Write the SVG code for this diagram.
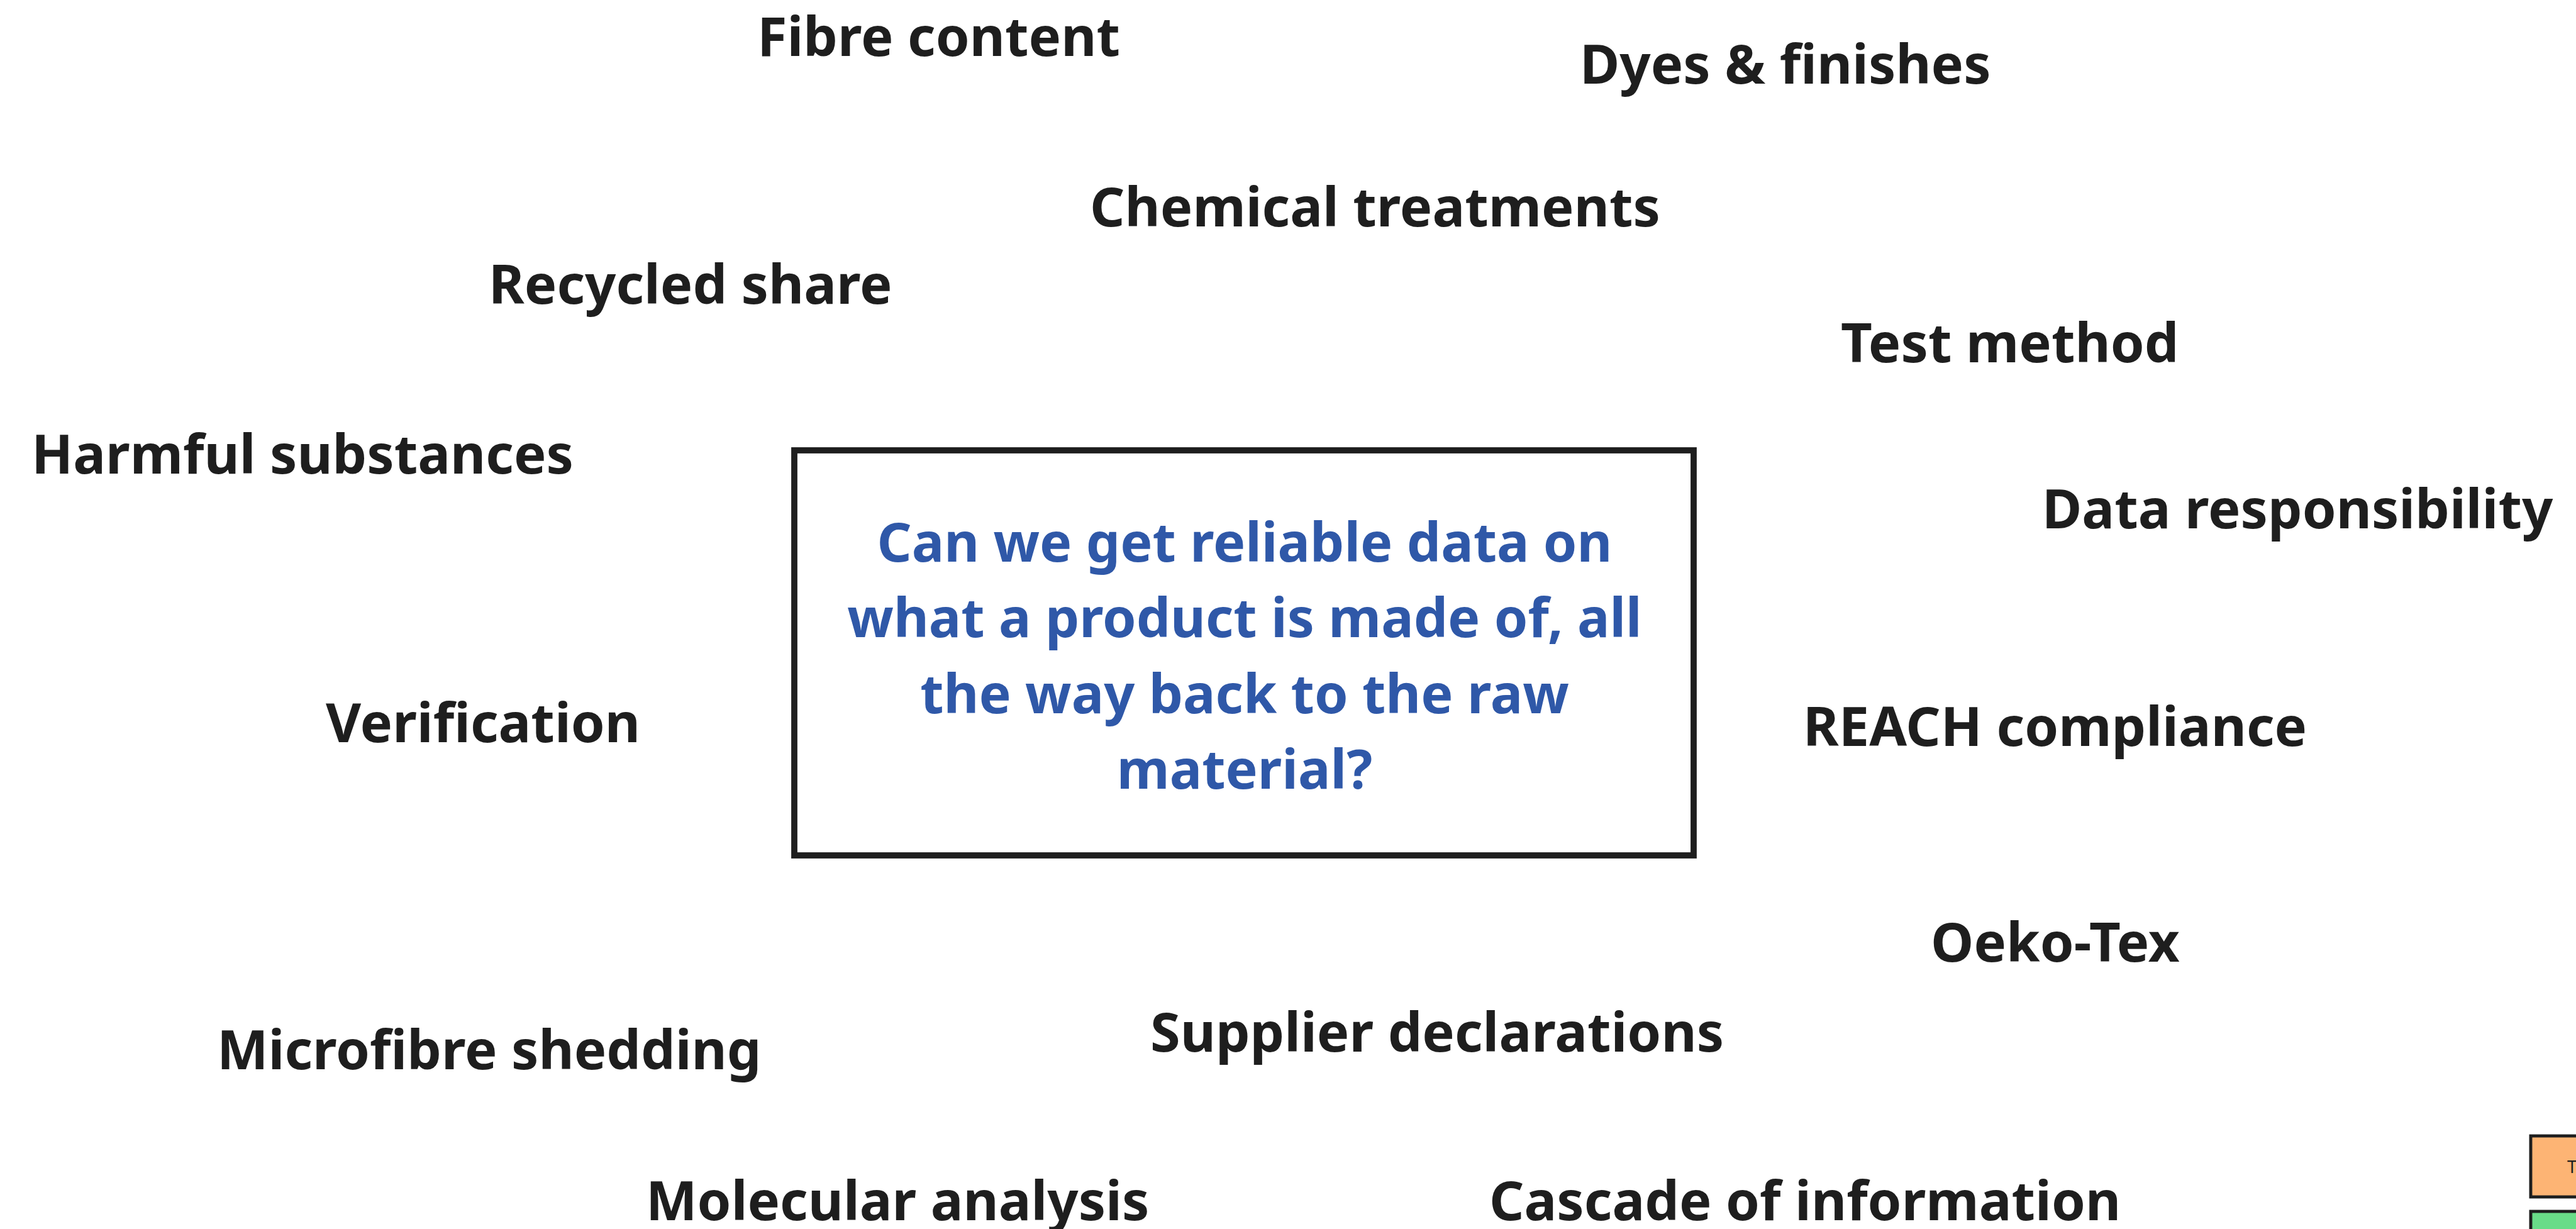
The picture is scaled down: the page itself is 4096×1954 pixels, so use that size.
<svg xmlns="http://www.w3.org/2000/svg" width="4096" height="1954" viewBox="0 0 4096 1954">
  <style>
    .topic { font-family: "Noto Sans", "Open Sans", sans-serif; font-weight: 700; font-size: 86.5px; fill: #1e1e1e; }
    .question { font-family: "Noto Sans", "Open Sans", sans-serif; font-weight: 700; font-size: 86px; fill: #2f58a8; text-anchor: middle; }
    .frame { fill: #ffffff; stroke: #1e1e1e; stroke-width: 9.8; }
    .legend { stroke: #1e1e1e; stroke-width: 4.9; }
    .legend-text { font-family: "Noto Sans", sans-serif; font-size: 28px; fill: #1e1e1e; }
  </style>
  <rect width="4096" height="1954" fill="#ffffff"/>

  <!-- no connectors in this board -->
  <g id="connectors"/>

  <!-- central question -->
  <g id="question">
    <rect class="frame" x="1263" y="716" width="1430" height="644"/>
    <text class="question" x="1979" y="893">Can we get reliable data on</text>
    <text class="question" x="1979" y="1013">what a product is made of, all</text>
    <text class="question" x="1979" y="1134">the way back to the raw</text>
    <text class="question" x="1979" y="1254">material?</text>
  </g>

  <!-- surrounding topics -->
  <g id="fibre-content"><text class="topic" x="1204" y="89">Fibre content</text></g>
  <g id="dyes-finishes"><text class="topic" x="2512" y="133">Dyes &amp; finishes</text></g>
  <g id="chemical-treatments"><text class="topic" x="1733" y="360">Chemical treatments</text></g>
  <g id="recycled-share"><text class="topic" x="777" y="483">Recycled share</text></g>
  <g id="test-method"><text class="topic" x="2927" y="576">Test method</text></g>
  <g id="harmful-substances"><text class="topic" x="50" y="753">Harmful substances</text></g>
  <g id="data-responsibility"><text class="topic" x="3247" y="840">Data responsibility</text></g>
  <g id="verification"><text class="topic" x="518" y="1180">Verification</text></g>
  <g id="reach-compliance"><text class="topic" x="2867" y="1186">REACH compliance</text></g>
  <g id="oeko-tex"><text class="topic" x="3070" y="1529">Oeko-Tex</text></g>
  <g id="supplier-declarations"><text class="topic" x="1829" y="1672">Supplier declarations</text></g>
  <g id="microfibre-shedding"><text class="topic" x="345" y="1700">Microfibre shedding</text></g>
  <g id="molecular-analysis"><text class="topic" x="1027" y="1940">Molecular analysis</text></g>
  <g id="cascade-of-information"><text class="topic" x="2368" y="1940">Cascade of information</text></g>

  <!-- legend swatches at the lower right edge -->
  <g id="legend">
    <rect class="legend" x="4024" y="1806" width="120" height="97" fill="#fdb474"/>
    <text class="legend-text" x="4082" y="1865">T</text>
    <rect class="legend" x="4024" y="1926" width="120" height="97" fill="#69dc88"/>
  </g>
</svg>
